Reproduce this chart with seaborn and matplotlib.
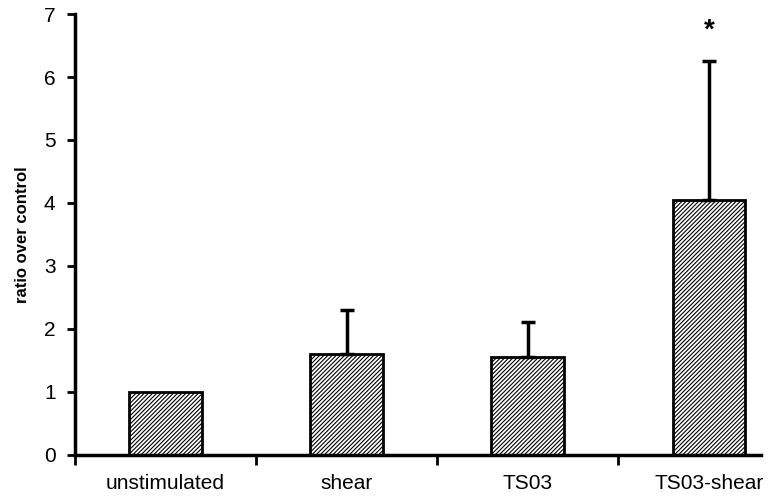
import matplotlib
matplotlib.use("Agg")
from matplotlib import pyplot as plt
import seaborn as sns
import pandas as pd

# values
groups = ["unstimulated", "shear", "TS03", "TS03-shear"]
ratio = [1.0, 1.60, 1.56, 4.05]
err_upper = [0.0, 0.70, 0.55, 2.20]
stars = ["", "", "", "*"]


def main():
    sns.set_style("white")
    plt.rcParams['font.family'] = ['Liberation Sans', 'DejaVu Sans']
    plt.rcParams['hatch.linewidth'] = 0.8
    plt.rcParams['hatch.color'] = '#6a6a6a'
    plt.rcParams['text.color'] = 'black'
    plt.rcParams['xtick.color'] = 'black'
    plt.rcParams['ytick.color'] = 'black'

    df = pd.DataFrame({"group": groups, "ratio": ratio})

    fig = plt.figure(figsize=(7.69, 5.01), dpi=100)
    ax = fig.add_axes([0.0975, 0.092, 0.8925, 0.880])

    sns.barplot(data=df, x="group", y="ratio", color="white", width=0.4,
                edgecolor="black", linewidth=2, ax=ax, errorbar=None)
    for p in ax.patches:
        p.set_hatch("////////")

    # one-sided error bars (upward only)
    xs = list(range(len(groups)))
    for x, y, e in zip(xs, ratio, err_upper):
        if e > 0:
            ax.errorbar(x, y, yerr=[[0], [e]], fmt="none", ecolor="black",
                        elinewidth=2.5, capsize=5, capthick=2.5, zorder=3)

    for x, y, e, s in zip(xs, ratio, err_upper, stars):
        if s:
            ax.text(x, y + e + 0.48, s, ha="center", va="center",
                    fontsize=20, fontweight="bold")

    ax.set_ylim(0, 7)
    ax.set_xlim(-0.5, 3.29)
    ax.set_yticks(range(8))
    ax.set_xlabel("")
    ax.set_ylabel("ratio over control", fontsize=12, fontweight="bold",
                  labelpad=10, color="black")

    # labels centred under bars, tick marks between groups
    ax.set_xticks(xs)
    ax.set_xticklabels(groups)
    ax.tick_params(axis="x", which="major", length=0, labelsize=15, pad=14)
    ax.set_xticks([-0.5, 0.5, 1.5, 2.5], minor=True)
    ax.tick_params(axis="x", which="minor", bottom=True, length=7, width=2,
                   direction="out", color="black")
    ax.tick_params(axis="y", length=6, width=2, direction="out", labelsize=15,
                   color="black", left=True, pad=8)

    for side in ["top", "right"]:
        ax.spines[side].set_visible(False)
    for side in ["left", "bottom"]:
        ax.spines[side].set_linewidth(2.5)
        ax.spines[side].set_color("black")

    plt.savefig("out.png", dpi=100)


if __name__ == "__main__":
    main()
